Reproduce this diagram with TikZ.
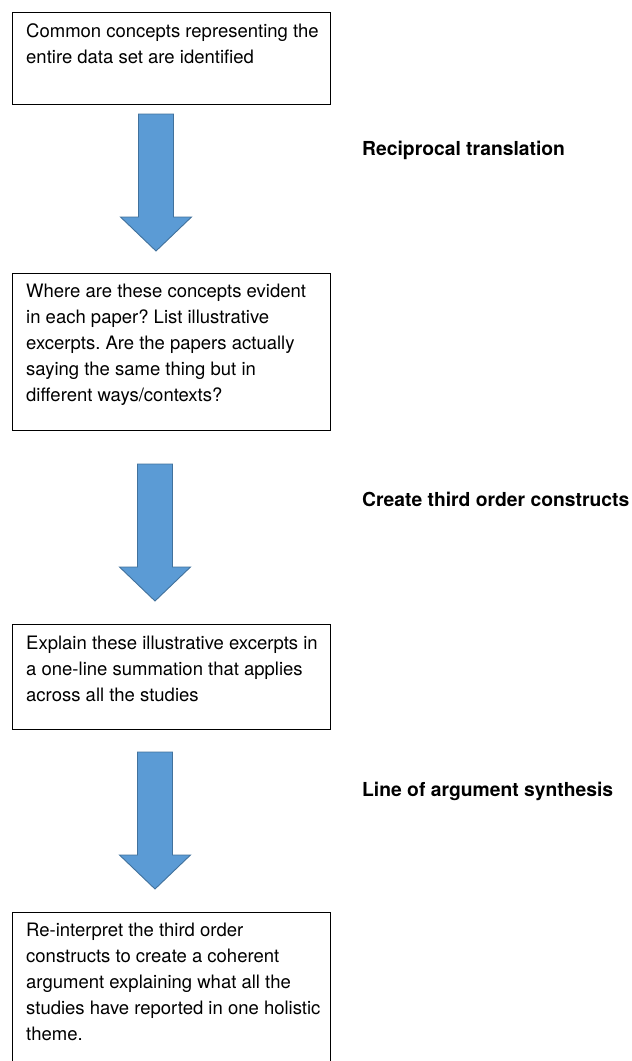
\documentclass[tikz,border=0pt]{standalone}
\usepackage{fontspec}
\setmainfont{TeX Gyre Heros}
\frenchspacing
\begin{document}
\begin{tikzpicture}[x=1pt,y=-1pt]

    \tikzset{
      stepbox/.style={
        draw=black,
        line width=0.9pt,
        anchor=north west,
        minimum width=318pt,
        inner sep=0pt,
      },
      boxtext/.style={
        anchor=north west,
        align=left,
        inner sep=0pt,
        font=\fontsize{18.5}{26}\selectfont,
      },
      steplabel/.style={
        anchor=base west,
        inner sep=0pt,
        font=\fontsize{19.3}{26}\selectfont\bfseries,
      },
      blockarrow/.pic={
        \filldraw[fill={rgb,255:red,91;green,155;blue,213}, draw={rgb,255:red,65;green,113;blue,156}, line width=0.9pt]
          (-17.5,0)--(17.5,0)--(17.5,103)--(35.5,103)--(0,137)--(-35.5,103)--(-17.5,103)--cycle;
      },
    }
    \useasboundingbox (0,0) rectangle (632,1061);
    \clip (0,0) rectangle (632,1061);

    % boxes
    \node[stepbox, minimum height=92pt] (b1) at (12,12) {};
    \node[stepbox, minimum height=157pt] (b2) at (12,273) {};
    \node[stepbox, minimum height=105pt] (b3) at (12,624) {};
    \node[stepbox, minimum height=170pt] (b4) at (12,912) {};

    % texts
    \node[boxtext] (t1) at ([shift={(14,11)}]b1.north west) {Common concepts representing the\\entire data set are identified};
    \node[boxtext] (t2) at ([shift={(14,11)}]b2.north west) {Where are these concepts evident\\in each paper? List illustrative\\excerpts. Are the papers actually\\saying the same thing but in\\different ways/contexts?};
    \node[boxtext] (t3) at ([shift={(14,12)}]b3.north west) {Explain these illustrative excerpts in\\a one-line summation that applies\\across all the studies};
    \node[boxtext] (t4) at ([shift={(14,11)}]b4.north west) {Re-interpret the third order\\constructs to create a coherent\\argument explaining what all the\\studies have reported in one holistic\\theme.};

    % arrows
    \pic (a1) at (156,114) {blockarrow};
    \pic (a2) at (155,464) {blockarrow};
    \pic (a3) at (155,752) {blockarrow};

    % labels
    \node[steplabel] (l1) at (362,155) {Reciprocal translation};
    \node[steplabel] (l2) at (362,506) {Create third order constructs};
    \node[steplabel] (l3) at (362,796) {Line of argument synthesis};

\end{tikzpicture}
\end{document}
